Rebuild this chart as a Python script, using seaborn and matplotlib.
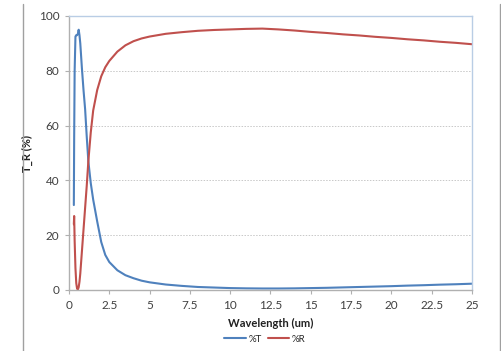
import numpy as np
import pandas as pd
import matplotlib
matplotlib.use("Agg")
import matplotlib.pyplot as plt
import seaborn as sns
from matplotlib.lines import Line2D

# datos
wavelength = [0.30, 0.32, 0.35, 0.40, 0.45, 0.50, 0.55, 0.60, 0.65, 0.70, 0.80, 0.90,
              1.00, 1.10, 1.20, 1.35, 1.50, 1.75, 2.00, 2.25, 2.50, 3.00, 3.50, 4.00,
              4.50, 5.00, 6.00, 7.00, 8.00, 9.00, 10.0, 11.0, 12.0, 13.0, 14.0, 15.0,
              16.0, 17.0, 18.0, 19.0, 20.0, 21.0, 22.0, 23.0, 24.0, 25.0]
pct_T = [31.0, 55.0, 80.0, 92.5, 93.0, 93.0, 93.5, 95.0, 93.0, 90.0, 81.0, 73.0,
         66.0, 56.0, 47.0, 39.0, 33.0, 25.0, 17.5, 12.8, 10.2, 7.2, 5.4, 4.3,
         3.4, 2.8, 2.0, 1.5, 1.1, 0.9, 0.7, 0.6, 0.55, 0.55, 0.6, 0.7,
         0.8, 0.95, 1.1, 1.25, 1.4, 1.6, 1.75, 1.95, 2.1, 2.3]
pct_R = [24.0, 27.0, 18.0, 8.0, 2.5, 0.5, 0.2, 1.0, 3.0, 6.0, 14.0, 22.0,
         30.0, 38.0, 47.0, 57.5, 65.5, 73.0, 78.0, 81.3, 83.6, 87.0, 89.3, 90.8,
         91.8, 92.5, 93.5, 94.1, 94.6, 94.9, 95.1, 95.3, 95.4, 95.1, 94.7, 94.2,
         93.8, 93.3, 92.9, 92.4, 92.0, 91.5, 91.1, 90.6, 90.2, 89.7]
series_labels = ["%T", "%R"]
series_colors = ["#4F81BD", "#C0504D"]

df = pd.DataFrame({"Wavelength": wavelength, "%T": pct_T, "%R": pct_R})
df_long = df.melt(id_vars="Wavelength", var_name="serie", value_name="valor")

sns.set_theme(style="white")
plt.rcParams["font.family"] = ["Lato", "DejaVu Sans"]

fig = plt.figure(figsize=(5.02, 3.51), dpi=100)
ax = fig.add_axes([69 / 502, 61 / 351, 403 / 502, 274 / 351])

sns.lineplot(data=df_long, x="Wavelength", y="valor", hue="serie",
             hue_order=series_labels, palette=series_colors,
             estimator=None, sort=False, linewidth=1.5, ax=ax)

ax.set_xlim(0, 25)
ax.set_ylim(0, 100)
ax.set_xticks(np.arange(0, 25.1, 2.5))
ax.set_xticklabels(["0", "2.5", "5", "7.5", "10", "12.5", "15", "17.5", "20", "22.5", "25"])
ax.set_yticks(np.arange(0, 101, 20))
ax.tick_params(axis="both", labelsize=8.5, length=3, width=0.8,
               direction="out", bottom=True, left=True, pad=4)
ax.tick_params(axis="both", colors="#b0b0b0", labelcolor="#404040")

for y in [20, 40, 60, 80]:
    ax.axhline(y, color="#c8c8c8", linestyle=(0, (1.5, 1.5)), linewidth=0.7, zorder=0)

ax.spines["left"].set_color("#b0b0b0")
ax.spines["bottom"].set_color("#b0b0b0")
ax.spines["top"].set_color("#b9cde5")
ax.spines["right"].set_color("#b9cde5")
for s in ax.spines.values():
    s.set_linewidth(1.0)

ax.set_xlabel("Wavelength (um)", fontsize=8, fontweight="bold", color="#202020", labelpad=5)
ax.set_ylabel("T_R (%)", fontsize=8, fontweight="bold", color="#202020")
ax.yaxis.set_label_coords((33 - 69) / 403, 0.5)

handles, labels = ax.get_legend_handles_labels()
ax.legend(handles, labels, loc="center", bbox_to_anchor=(265 / 502, 12 / 351),
          bbox_transform=fig.transFigure, ncol=2, frameon=False, fontsize=7,
          handlelength=2.2, handletextpad=0.3, columnspacing=0.6)

# líneas de marco de la página
fig.add_artist(Line2D([23 / 502, 23 / 502], [0, 1 - 4 / 351], color="#a0a0a0", linewidth=1.0))
fig.add_artist(Line2D([500 / 502, 500 / 502], [0, 1 - 4 / 351], color="#a0a0a0", linewidth=1.0))

fig.savefig("out.png", dpi=100)
plt.close(fig)
